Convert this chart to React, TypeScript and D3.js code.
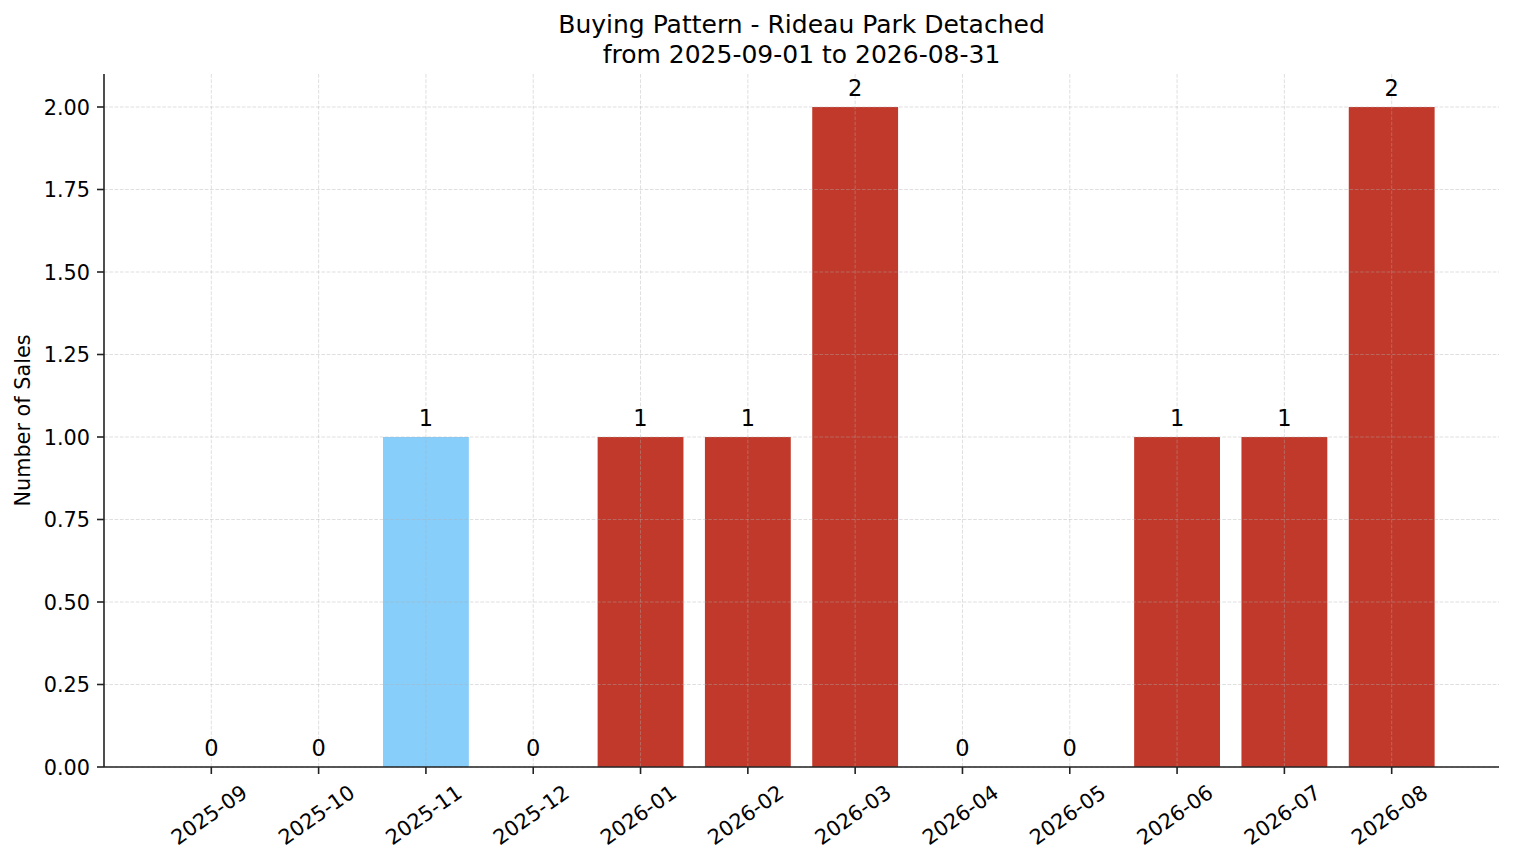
import * as d3 from 'd3';
import { useEffect, useRef } from 'react';

const width = 1514;
const height = 863;

const months = [
  '2025-09', '2025-10', '2025-11', '2025-12', '2026-01', '2026-02',
  '2026-03', '2026-04', '2026-05', '2026-06', '2026-07', '2026-08',
];
const sales = [0, 0, 1, 0, 1, 1, 2, 0, 0, 1, 1, 2];
// the one light-blue month, the rest are red
const highlight = ['2025-11'];
const yTicks = [0, 0.25, 0.5, 0.75, 1, 1.25, 1.5, 1.75, 2];

const font = 'DejaVu Sans, sans-serif';

export default function App() {
  const svgRef = useRef<SVGSVGElement>(null);

  useEffect(() => {
    document.body.style.margin = '0';
    const svg = d3.select(svgRef.current);
    svg.selectAll('*').remove();

    const margin = { top: 74, right: 15, bottom: 96, left: 104 };
    const plotW = width - margin.left - margin.right;
    const plotH = height - margin.top - margin.bottom;

    const x = d3.scaleLinear().domain([-1, 12]).range([0, plotW]);
    const y = d3.scaleLinear().domain([0, 2.1]).range([plotH, 0]);
    const barW = (x(1) - x(0)) * 0.8;

    svg.append('rect').attr('width', width).attr('height', height).attr('fill', '#fff');

    // title
    const title = svg
      .append('text')
      .attr('text-anchor', 'middle')
      .attr('font-family', font)
      .attr('font-size', 25)
      .attr('fill', '#000');
    title.append('tspan').attr('x', margin.left + plotW / 2).attr('y', 33).text('Buying Pattern - Rideau Park Detached');
    title.append('tspan').attr('x', margin.left + plotW / 2).attr('y', 62.5).text('from 2025-09-01 to 2026-08-31');

    const g = svg.append('g').attr('transform', `translate(${margin.left},${margin.top})`);

    // bars
    g.append('g')
      .selectAll('rect')
      .data(sales)
      .join('rect')
      .attr('x', (_, i) => x(i) - barW / 2)
      .attr('y', (d) => y(d))
      .attr('width', barW)
      .attr('height', (d) => y(0) - y(d))
      .attr('fill', (_, i) => (highlight.includes(months[i]) ? '#87cefa' : '#c0392b'));

    // grid on top of the bars
    const grid = g
      .append('g')
      .attr('stroke', '#b0b0b0')
      .attr('stroke-opacity', 0.5)
      .attr('stroke-width', 0.8)
      .attr('stroke-dasharray', '3.7,1.6');
    grid
      .selectAll('line.h')
      .data(yTicks)
      .join('line')
      .attr('class', 'h')
      .attr('x1', 0)
      .attr('x2', plotW)
      .attr('y1', (d) => y(d))
      .attr('y2', (d) => y(d));
    grid
      .selectAll('line.v')
      .data(months)
      .join('line')
      .attr('class', 'v')
      .attr('x1', (_, i) => x(i))
      .attr('x2', (_, i) => x(i))
      .attr('y1', 0)
      .attr('y2', plotH);

    // bar labels
    g.append('g')
      .selectAll('text')
      .data(sales)
      .join('text')
      .attr('x', (_, i) => x(i))
      .attr('y', (d) => y(d) - 11)
      .attr('text-anchor', 'middle')
      .attr('font-family', font)
      .attr('font-size', 22.5)
      .attr('fill', '#000')
      .text((d) => d);

    // spines
    g.append('line')
      .attr('x1', 0).attr('x2', 0).attr('y1', 0).attr('y2', plotH)
      .attr('stroke', '#222').attr('stroke-width', 1.6);
    g.append('line')
      .attr('x1', 0).attr('x2', plotW).attr('y1', plotH).attr('y2', plotH)
      .attr('stroke', '#222').attr('stroke-width', 1.6);

    // y ticks
    const yt = g.append('g').selectAll('g').data(yTicks).join('g')
      .attr('transform', (d) => `translate(0,${y(d)})`);
    yt.append('line').attr('x1', -7).attr('x2', 0).attr('stroke', '#222').attr('stroke-width', 1.6);
    yt.append('text')
      .attr('x', -14)
      .attr('dy', '0.36em')
      .attr('text-anchor', 'end')
      .attr('font-family', font)
      .attr('font-size', 20.8)
      .attr('fill', '#000')
      .text((d) => d3.format('.2f')(d));

    // x ticks
    const xt = g.append('g').selectAll('g').data(months).join('g')
      .attr('transform', (_, i) => `translate(${x(i)},${plotH})`);
    xt.append('line').attr('y1', 0).attr('y2', 7).attr('stroke', '#222').attr('stroke-width', 1.6);
    xt.append('text')
      .attr('transform', 'translate(-2,48) rotate(-35)')
      .attr('text-anchor', 'middle')
      .attr('dominant-baseline', 'central')
      .attr('font-family', font)
      .attr('font-size', 20.8)
      .attr('fill', '#000')
      .text((d) => d);

    // y axis label
    svg.append('text')
      .attr('transform', `translate(30,${margin.top + plotH / 2}) rotate(-90)`)
      .attr('text-anchor', 'middle')
      .attr('font-family', font)
      .attr('font-size', 20.8)
      .attr('fill', '#000')
      .text('Number of Sales');
  }, []);

  return <svg ref={svgRef} width={width} height={height} style={{ display: 'block' }} />;
}
